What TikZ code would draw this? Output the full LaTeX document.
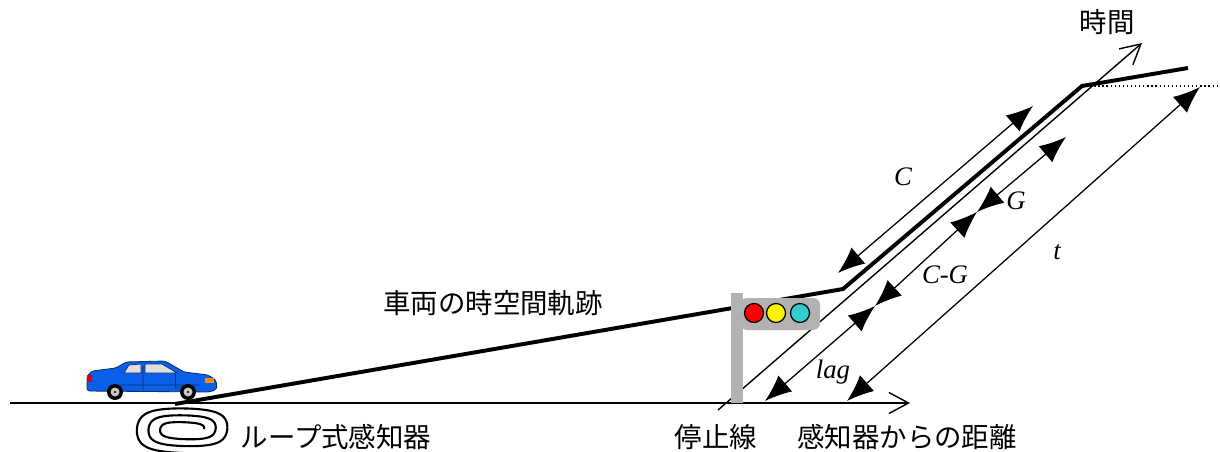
\documentclass[tikz,border=0pt]{standalone}
\usepackage{fontspec}
\setmainfont{Liberation Serif}
\newfontfamily\jp{Noto Sans CJK JP}
\usepackage{xcolor}
\usepackage{tikz}
\usetikzlibrary{arrows.meta}

\definecolor{carblue}{HTML}{0A5FE6}
\definecolor{cardark}{HTML}{06306F}
\definecolor{polegray}{HTML}{B2B2B2}
\definecolor{lampcyan}{HTML}{33CCCC}

\begin{document}
\begin{tikzpicture}[x=0.025cm,y=-0.025cm,
		axis/.style={line width=1pt,-{Straight Barb[length=14pt,width=15pt,line width=1pt]}},
		traj/.style={line width=2.8pt,line join=miter},
		dim/.style={line width=0.9pt,{Latex[length=19pt,width=15pt]}-{Latex[length=19pt,width=15pt]}},
		lbl/.style={font=\fontsize{19}{21}\selectfont\itshape,inner sep=0pt},
		jlbl/.style={font=\fontsize{19.5}{22}\selectfont\jp,inner sep=0pt},
		lamp/.style={draw=black,line width=0.9pt}]
		\useasboundingbox (0,0) rectangle (1220,452);
		%
		% points of the axes and of the trajectory
		\coordinate (ax0) at (10,403);
		\coordinate (ax1) at (910,403);
		\coordinate (tm0) at (718,410);
		\coordinate (tm1) at (1142,43);
		\coordinate (tr0) at (175,404);
		\coordinate (tr1) at (843,289);
		\coordinate (tr2) at (1082,86);
		\coordinate (tr3) at (1188,68);
		\coordinate (dt1) at (1220,86);
		% ends of the interval arrows
		\coordinate (c0) at (838,273);
		\coordinate (c1) at (1033,106);
		\coordinate (g0) at (977,212);
		\coordinate (g1) at (1066,137);
		\coordinate (cg0) at (875,306);
		\coordinate (lag0) at (765,401);
		\coordinate (t0) at (847,401);
		\coordinate (t1) at (1200,87);
		%
		\draw[axis] (ax0) -- (ax1);
		\draw[axis] (tm0) -- (tm1);
		\draw[dotted,line width=0.9pt] (tr2) -- (dt1);
		\draw[traj] (tr0) -- (tr1) -- (tr2) -- (tr3);
		%
		\draw[dim] (c0) -- (c1);
		\draw[dim] (g0) -- (g1);
		\draw[dim] (cg0) -- (g0);
		\draw[dim] (lag0) -- (cg0);
		\draw[dim] (t0) -- (t1);
		%
		\node[lbl] (lC) at (903,177) {C};
		\node[lbl] (lG) at (1016,201) {G};
		\node[lbl] (lCG) at (945,275) {C-G};
		\node[lbl] (lt) at (1057,252) {t};
		\node[lbl] (llag) at (833,372) {lag};
		%
		% signal at the stop line
		\fill[polegray] (731,293) rectangle (743,403);
		\fill[polegray,rounded corners=5] (740,298) -- (820,298) -- (820,330) -- (740,330) -- cycle;
		\filldraw[lamp,fill=red] (754,313) circle (9.5);
		\filldraw[lamp,fill=yellow] (776,313) circle (9.5);
		\filldraw[lamp,fill=lampcyan] (800,313) circle (9.5);
		%
		% loop detector (squared spiral)
		\draw[line width=1.5pt] plot[domain=0:1,samples=400,smooth]
			({185+(19+32*\x)*(1.2*cos(-990*\x)-0.2*cos(-990*\x)^3)},
			 {429+(5+19*\x)*(1.2*sin(-990*\x)-0.2*sin(-990*\x)^3)});
		%
		% car
		\filldraw[fill=carblue,draw=cardark,line width=0.6pt,rounded corners=2]
			(87,391) -- (87,376) -- (92,371) -- (116,368) -- (126,362) -- (165,361)
			-- (184,372) -- (208,375) -- (216,380) -- (217,389) -- (210,392) -- cycle;
		\filldraw[fill=gray!25,draw=cardark,line width=0.5pt] (124,373) -- (129,365) -- (141,364) -- (141,373) -- cycle;
		\filldraw[fill=gray!25,draw=cardark,line width=0.5pt] (145,364) -- (162,364) -- (177,373) -- (145,373) -- cycle;
		\draw[cardark,line width=0.6pt] (143,366) -- (143,390) (175,373) -- (176,389) (117,385) -- (200,385);
		\fill[red!85!black] (87,375) rectangle (92,382);
		\fill[orange!90!yellow] (205,378) rectangle (214,383);
		\foreach \wx in {115,188} {
			\fill[black] (\wx,392) circle (8);
			\fill[gray!45] (\wx,392) circle (4.5);
			\fill[black] (\wx,392) circle (1.2);
		}
		%
		\node[jlbl] (trajlabel) at (493,303) {車両の時空間軌跡};
		\node[jlbl] (looplabel) at (336,437) {ループ式感知器};
		\node[jlbl] (stoplabel) at (716,437) {停止線};
		\node[jlbl] (distlabel) at (907,437) {感知器からの距離};
		\node[jlbl] (timelabel) at (1107,22) {時間};
\end{tikzpicture}
\end{document}
